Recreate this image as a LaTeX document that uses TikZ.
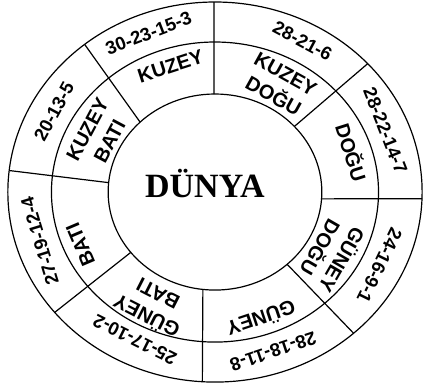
\documentclass[tikz,border=0pt]{standalone}
\usepackage{fontspec}
\setmainfont{Liberation Serif}
\setsansfont{Liberation Sans}
\usetikzlibrary{positioning}

\tikzset{
    yontext/.style={font=\sffamily\bfseries\fontsize{20}{25}\selectfont, align=center, inner sep=0pt},
    sayitext/.style={font=\sffamily\bfseries\fontsize{18.5}{20}\selectfont, inner sep=0pt},
}

\begin{document}
\begin{tikzpicture}[x=1.09pt, y=1pt, line width=1.2pt]
    \useasboundingbox (-197.2,-199) rectangle (190.8,192);

    % Draw the three rings
    \draw (0,0) circle (98);
    \draw (0,0) circle (150);
    \draw (0,0) circle (190);

    % Dividers between the sectors
    \draw (-4:98) -- (-2:190);
    \draw (42:98) -- (42.5:190);
    \draw (90.5:98) -- (90.3:190);
    \draw (134.5:98) -- (129:190);
    \draw (174.5:98) -- (173.5:190);
    \draw (218:98) -- (219.3:190);
    \draw (263.5:98) -- (266.5:190);
    \draw (312.5:98) -- (312:190);

    % Centre
    \node[anchor=base, font=\bfseries\fontsize{34}{38}\selectfont] (dunya) at (-9.2,-5) {DÜNYA};

    % Directions
    \node[yontext, rotate=18] (k) at (108:132) {KUZEY};
    \node[yontext, rotate=-29] (kd) at (61:122) {KUZEY\\DOĞU};
    \node[yontext, rotate=-72.5] (d) at (17.5:132) {DOĞU};
    \node[yontext, rotate=240] (gd) at (330:124) {GÜNEY\\DOĞU};
    \node[yontext, rotate=198.5] (g) at (288.5:134) {GÜNEY};
    \node[yontext, rotate=153] (gb) at (243:128) {GÜNEY\\BATI};
    \node[yontext, rotate=113] (b) at (203:134) {BATI};
    \node[yontext, rotate=62] (kb) at (152:121) {KUZEY\\BATI};

    % Numbers in the outer ring
    \node[sayitext, rotate=21] (sk) at (111:170) {30-23-15-3};
    \node[sayitext, rotate=-28] (skd) at (62:171) {28-21-6};
    \node[sayitext, rotate=-68.5] (sd) at (21.5:168) {28-22-14-7};
    \node[sayitext, rotate=244] (sgd) at (334:168) {24-16-9-1};
    \node[sayitext, rotate=198.5] (sg) at (288.5:168) {28-18-11-8};
    \node[sayitext, rotate=153.5] (sgb) at (243.5:165) {25-17-10-2};
    \node[sayitext, rotate=107] (sb) at (197:168) {27-19-12-4};
    \node[sayitext, rotate=61.5] (skb) at (151.5:168) {20-13-5};
\end{tikzpicture}
\end{document}
